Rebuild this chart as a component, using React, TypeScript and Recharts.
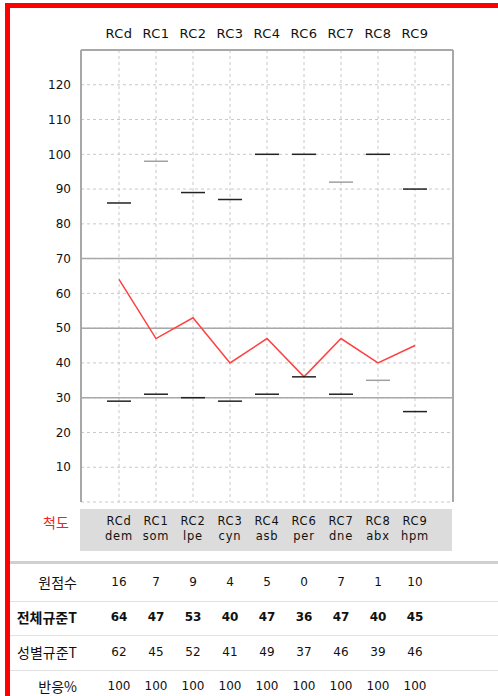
import React from "react";
import {
  LineChart,
  Line,
  XAxis,
  YAxis,
  CartesianGrid,
  ReferenceLine,
} from "recharts";

const scales = ["RCd", "RC1", "RC2", "RC3", "RC4", "RC6", "RC7", "RC8", "RC9"];
const abbrevs = ["dem", "som", "lpe", "cyn", "asb", "per", "dne", "abx", "hpm"];
const tScores = [64, 47, 53, 40, 47, 36, 47, 40, 45];
const upperMarks = [86, 98, 89, 87, 100, 100, 92, 100, 90];
const lowerMarks = [29, 31, 30, 29, 31, 36, 31, 35, 26];
const upperGray = [false, true, false, false, false, false, true, false, false];
const lowerGray = [false, false, false, false, false, false, false, true, false];
const rawScores = [16, 7, 9, 4, 5, 0, 7, 1, 10];
const genderT = [62, 45, 52, 41, 49, 37, 46, 39, 46];
const responsePct = [100, 100, 100, 100, 100, 100, 100, 100, 100];
const yTicks = [10, 20, 30, 40, 50, 60, 70, 80, 90, 100, 110, 120];
const solidLines = [30, 50, 70];

const data = scales.map((name, i) => ({
  name,
  t: tScores[i],
  upper: upperMarks[i],
  lower: lowerMarks[i],
}));

const PLOT_LEFT = 81;
const PLOT_RIGHT = 453;
const X_PAD = 38;
const colX = (i: number) =>
  PLOT_LEFT + X_PAD + (i * (PLOT_RIGHT - PLOT_LEFT - 2 * X_PAD)) / (scales.length - 1);

const latin = "'DejaVu Sans', sans-serif";
const korean = "'Noto Sans CJK KR', sans-serif";

function makeMark(gray: boolean[]) {
  return (props: any) => {
    const { cx, cy, index } = props;
    if (cx == null || cy == null) return <g key={index} />;
    return (
      <line
        key={index}
        x1={cx - 12}
        x2={cx + 12}
        y1={cy}
        y2={cy}
        stroke={gray[index] ? "#a0a0a0" : "#222"}
        strokeWidth={1.5}
      />
    );
  };
}

function Row({
  label,
  values,
  y,
  bold,
}: {
  label: string;
  values: number[];
  y: number;
  bold?: boolean;
}) {
  return (
    <>
      <div
        style={{
          position: "absolute",
          right: 498 - 77,
          top: y - 10,
          height: 20,
          lineHeight: "20px",
          fontFamily: korean,
          fontSize: 14,
          fontWeight: bold ? 700 : 400,
          whiteSpace: "nowrap",
          color: "#111",
        }}
      >
        {label}
      </div>
      {values.map((v, i) => (
        <div
          key={i}
          style={{
            position: "absolute",
            left: colX(i) - 20,
            width: 40,
            top: y - 10,
            height: 20,
            lineHeight: "20px",
            textAlign: "center",
            fontFamily: latin,
            fontSize: 12,
            fontWeight: bold ? 700 : 400,
            color: "#111",
          }}
        >
          {v}
        </div>
      ))}
    </>
  );
}

function BoxText({ text, x, y }: { text: string; x: number; y: number }) {
  return (
    <div
      style={{
        position: "absolute",
        left: x - 20,
        width: 40,
        top: y - 6,
        height: 12,
        lineHeight: "12px",
        textAlign: "center",
        fontFamily: latin,
        fontSize: 11.5,
        letterSpacing: 0.8,
        color: "#111",
        whiteSpace: "nowrap",
      }}
    >
      {text}
    </div>
  );
}

export default function App() {
  return (
    <div
      style={{
        position: "absolute",
        left: 0,
        top: 0,
        width: 498,
        height: 696,
        overflow: "hidden",
        background: "#fff",
      }}
    >
      <div
        style={{
          position: "absolute",
          left: 5,
          top: 3,
          width: 600,
          height: 700,
          border: "5px solid #ff0000",
          boxSizing: "border-box",
        }}
      />
      <div style={{ position: "absolute", left: 0, top: 0 }}>
        <LineChart
          width={498}
          height={504}
          data={data}
          margin={{ top: 20, right: 44, left: 0, bottom: 2 }}
        >
          <CartesianGrid stroke="#c8c8c8" strokeDasharray="3 3" />
          <XAxis
            dataKey="name"
            orientation="top"
            height={30}
            padding={{ left: X_PAD, right: X_PAD }}
            axisLine={{ stroke: "#a8a8a8", strokeWidth: 2 }}
            tickLine={false}
            tickSize={0}
            tickMargin={12}
            interval={0}
            tick={{
              fontSize: 13,
              fill: "#111",
              fontFamily: latin,
              letterSpacing: 0.5,
            }}
          />
          <XAxis
            xAxisId="bottom"
            dataKey="name"
            orientation="bottom"
            height={0}
            padding={{ left: X_PAD, right: X_PAD }}
            axisLine={{ stroke: "#a8a8a8", strokeWidth: 2 }}
            tickLine={false}
            tick={false}
          />
          <YAxis
            domain={[0, 130]}
            ticks={yTicks}
            interval={0}
            width={81}
            axisLine={{ stroke: "#a8a8a8", strokeWidth: 2 }}
            tickLine={false}
            tickSize={0}
            tickMargin={10}
            tick={{ fontSize: 12, fill: "#111", fontFamily: latin }}
          />
          <YAxis
            yAxisId="right"
            orientation="right"
            domain={[0, 130]}
            width={1}
            axisLine={{ stroke: "#a8a8a8", strokeWidth: 2 }}
            tickLine={false}
            tick={false}
          />
          {solidLines.map((v) => (
            <ReferenceLine key={v} y={v} stroke="#a8a8a8" strokeWidth={1.5} />
          ))}
          <Line
            dataKey="upper"
            stroke="none"
            dot={makeMark(upperGray)}
            activeDot={false}
            isAnimationActive={false}
          />
          <Line
            dataKey="lower"
            stroke="none"
            dot={makeMark(lowerGray)}
            activeDot={false}
            isAnimationActive={false}
          />
          <Line
            dataKey="t"
            stroke="#ff4040"
            strokeWidth={1.5}
            dot={false}
            activeDot={false}
            isAnimationActive={false}
          />
        </LineChart>
      </div>

      <div
        style={{
          position: "absolute",
          left: 30,
          width: 52,
          top: 512,
          height: 20,
          lineHeight: "20px",
          textAlign: "center",
          fontFamily: korean,
          fontSize: 14,
          color: "#ee2222",
        }}
      >
        척도
      </div>
      <div
        style={{
          position: "absolute",
          left: 80,
          top: 509,
          width: 372,
          height: 42,
          background: "#dcdcdc",
        }}
      />
      {scales.map((s, i) => (
        <BoxText key={s} text={s} x={colX(i)} y={521} />
      ))}
      {abbrevs.map((s, i) => (
        <BoxText key={s} text={s} x={colX(i)} y={536} />
      ))}

      <div
        style={{
          position: "absolute",
          left: 10,
          right: 0,
          top: 561,
          height: 3,
          background: "#d0d0d0",
        }}
      />
      {[601, 635, 670].map((y) => (
        <div
          key={y}
          style={{
            position: "absolute",
            left: 10,
            right: 0,
            top: y,
            height: 1,
            background: "#e2e2e2",
          }}
        />
      ))}
      <Row label="원점수" values={rawScores} y={582} />
      <Row label="전체규준T" values={tScores} y={617} bold />
      <Row label="성별규준T" values={genderT} y={652} />
      <Row label="반응%" values={responsePct} y={686} />
    </div>
  );
}
